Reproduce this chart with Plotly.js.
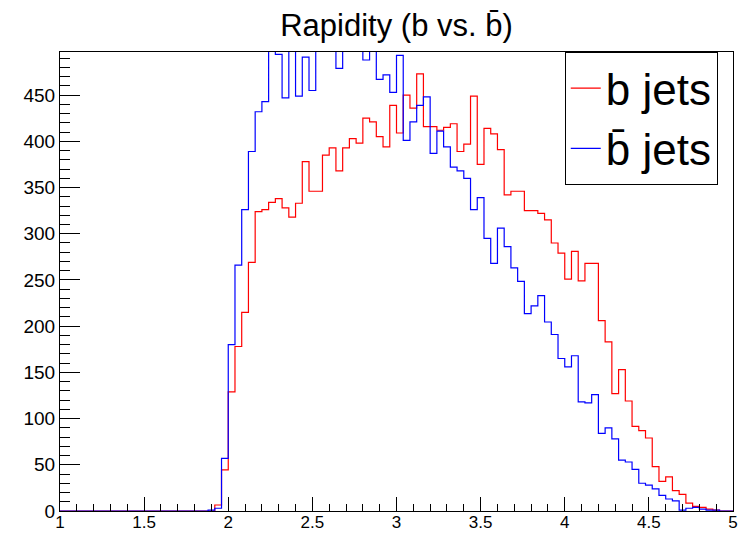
<!DOCTYPE html>
<html><head><meta charset="utf-8">
<script src="https://cdn.plot.ly/plotly-3.0.1.min.js"></script>
<style>html,body{margin:0;padding:0;background:#fff}</style>
</head><body><div id="chart" style="width:739px;height:533px"></div>
<script>
// Histogram binning
const xMin = 1, xMax = 5, nBins = 100;

// b jets (red) bin contents
const bJets = [
  0,0,0,0,0,0,0,0,0,0, 0,0,0,0,0,0,0,0,0,0, 0,0,0,6.5,44.6,
  129,178,215,269,324,326,334,338,328,318,333,378,346,346,385,393,
  368,393,403,398,425,421,405,394,439,409,450,436,473,416,416,412,415,419,389,397,
  449,375,414,408,391,342,346,346,325,325,322,315,290,279,251,281,249,268,268,206,
  183,127,153,119,91.5,87,79,48,32,37,22,18,8.5,5,4,2,1,0,0
];

// b-bar jets (blue) bin contents (values above the frame are clipped in the original)
const bbarJets = [
  0,0,0,0,0,0,0,0,0,0, 0,0,0,0,0,0,0,0,0,0, 0,0,1,3,57,
  180,266,326,389,432,443,510,494,447,520,449,491,455,530,515,525,
  479,520,535,510,488,505,467,472,453,493,401,421,439,448,387,411,394,372,368,360,
  326,339,295,268,306,286,263,248.5,213.5,222,233,204.5,191,165,156,168,118,117,126,84,
  90,78,55,53,45,30,28,24,17,13,11,1,3,4,2,1,1,0,0
];

const seriesNames = ['b jets', 'b\u0304 jets'];
const chartTitle = 'Rapidity (b vs. b\u0304)';
const xTickVals = [1, 1.5, 2, 2.5, 3, 3.5, 4, 4.5, 5];
const xTickText = ['1', '1.5', '2', '2.5', '3', '3.5', '4', '4.5', '5'];
const yTickVals = [0, 50, 100, 150, 200, 250, 300, 350, 400, 450];

// bin edges from the binning definition
const binWidth = (xMax - xMin) / nBins;
const edges = [];
for (let i = 0; i <= nBins; i++) edges.push(xMin + i * binWidth);
function stepY(vals) { return vals.concat([vals[vals.length - 1]]); }

const FONT = 'Liberation Sans, Arial, Helvetica, sans-serif';

const traces = [
  {x: edges, y: stepY(bJets), type: 'scatter', mode: 'lines', name: seriesNames[0],
   line: {shape: 'hv', color: '#ff0000', width: 1.2}},
  {x: edges, y: stepY(bbarJets), type: 'scatter', mode: 'lines', name: seriesNames[1],
   line: {shape: 'hv', color: '#0000ff', width: 1.2}}
];

const redMax = Math.max.apply(null, bJets);

const layout = {
  width: 739, height: 533,
  margin: {l: 60, r: 6, t: 52, b: 22},
  paper_bgcolor: '#ffffff', plot_bgcolor: '#ffffff',
  font: {family: FONT, color: '#000000'},
  title: {text: chartTitle, font: {family: FONT, size: 31, color: '#000'},
          x: 0.5, xref: 'paper', xanchor: 'center', y: 0.953, yref: 'container', yanchor: 'middle'},
  showlegend: true,
  legend: {x: 0.75, y: 1, xanchor: 'left', yanchor: 'top', xref: 'paper', yref: 'paper',
           bgcolor: '#ffffff', bordercolor: '#000000', borderwidth: 1,
           font: {family: FONT, size: 44, color: '#000'}, tracegroupgap: 0},
  xaxis: {
    range: [xMin, xMax], tickvals: xTickVals, ticktext: xTickText,
    ticks: 'inside', ticklen: 14, tickwidth: 1, tickcolor: '#000',
    minor: {dtick: 0.1, tick0: 1, ticks: 'inside', ticklen: 7, tickwidth: 1, tickcolor: '#000', showgrid: false},
    showline: true, linecolor: '#000', linewidth: 1, mirror: true,
    showgrid: false, zeroline: false, ticklabelstandoff: -4,
    tickfont: {family: FONT, size: 17, color: '#000'}
  },
  yaxis: {
    range: [0, redMax * 1.05], tickvals: yTickVals,
    ticks: 'inside', ticklen: 20, tickwidth: 1, tickcolor: '#000',
    minor: {dtick: 10, tick0: 0, ticks: 'inside', ticklen: 10, tickwidth: 1, tickcolor: '#000', showgrid: false},
    showline: true, linecolor: '#000', linewidth: 1, mirror: true,
    showgrid: false, zeroline: false,
    tickfont: {family: FONT, size: 19, color: '#000'}
  }
};

Plotly.newPlot('chart', traces, layout, {displayModeBar: false, staticPlot: true});
</script>
</body></html>
